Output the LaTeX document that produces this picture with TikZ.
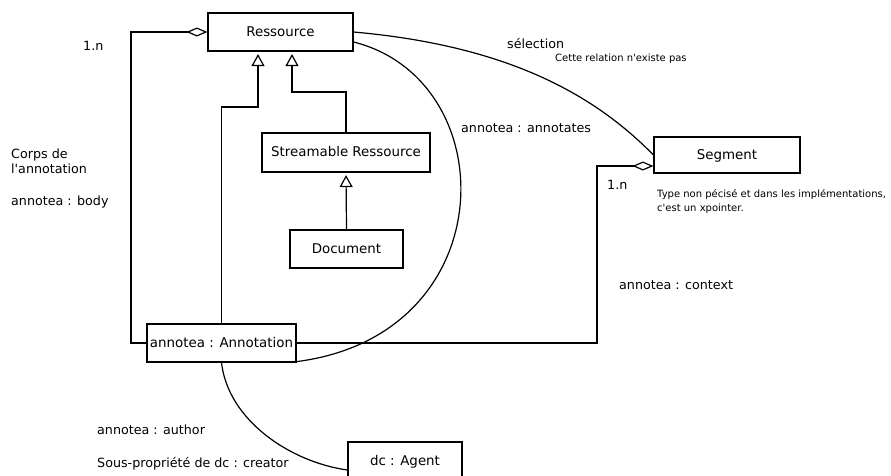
\documentclass[tikz,border=0pt]{standalone}
\usepackage{fontspec}
\setmainfont{DejaVu Sans}
\usetikzlibrary{arrows.meta,calc}

\tikzset{
  cls/.style={draw, line width=1.2pt, fill=white, inner sep=2pt,
    font=\fontsize{13.4}{16}\selectfont, text height=10pt, text depth=2pt},
  lbl/.style={inner sep=0pt, anchor=base west, font=\fontsize{12.7}{15}\selectfont},
  note/.style={inner sep=0pt, anchor=base west, font=\fontsize{10}{12}\selectfont},
  link/.style={line width=1.2pt},
  inh/.style={link, -{Triangle[open, length=12pt, width=13pt]}, shorten >=2.5pt},
  agg/.style={link, -{Diamond[open, length=21pt, width=9pt]}},
}

\begin{document}
\begin{tikzpicture}[x=1pt, y=-1pt]
\useasboundingbox (0,0) rectangle (891,475);

% classes
\node[cls, minimum width=145pt, minimum height=38pt] (res) at (280.5,32) {Ressource};
\node[cls, minimum width=168pt, minimum height=39pt] (str) at (346,152.5) {Streamable Ressource};
\node[cls, minimum width=113pt, minimum height=38pt] (doc) at (346.5,249) {Document};
\node[cls, minimum width=149pt, minimum height=38pt] (ann) at (221.5,343) {annotea : Annotation};
\node[cls, minimum width=146pt, minimum height=36pt] (seg) at (727,155) {Segment};
\node[cls, minimum width=114pt, minimum height=38pt] (agt) at (405,461) {dc : Agent};

% bend points of the orthogonal connectors
\coordinate (k1) at (258,107);
\coordinate (k2) at (292,92);
\coordinate (k3) at (597,166);
\coordinate (k4) at (131,343);

% generalisations
\draw[inh] (ann.north) |- (k1) -- (k1 |- res.south);
\draw[inh] (str.north) |- (k2) -- (k2 |- res.south);
\draw[inh] (doc.north) -- (str.south);

% body aggregation
\draw[agg] (ann.west) -- (k4) |- (res.west);

% context aggregation
\draw[agg] (ann.east) -| (k3) -- ($(seg.west)+(0,11)$);

% selection
\draw[link] (res.east) .. controls (500,45) and (590,90) .. (seg.west);

% annotates
\draw[link] ($(res.east)+(0,10)$) .. controls (505,80) and (505,335) .. ($(ann.south east)+(0,-1)$);

% author
\draw[link] (ann.south) .. controls (228,420) and (290,462) .. ($(agt.west)+(0,9)$);

% labels
\node[lbl] (m1) at (83,50) {1.n};
\node[lbl] (b1) at (11,158) {Corps de};
\node[lbl] (b2) at (11,173) {l\textquotesingle annotation};
\node[lbl] (b3) at (11,205) {annotea : body};
\node[lbl] (s1) at (507,48) {sélection};
\node[note] (s2) at (555,61) {Cette relation n\textquotesingle existe pas};
\node[lbl] (a1) at (461,132) {annotea : annotates};
\node[lbl] (m2) at (607,189) {1.n};
\node[note] (t1) at (657,197) {Type non pécisé et dans les implémentations,};
\node[note] (t2) at (657,211) {c\textquotesingle est un xpointer.};
\node[lbl] (c1) at (619,289) {annotea : context};
\node[lbl] (u1) at (97,434) {annotea : author};
\node[lbl] (u2) at (97,467) {Sous-propriété de dc : creator};
\end{tikzpicture}
\end{document}
